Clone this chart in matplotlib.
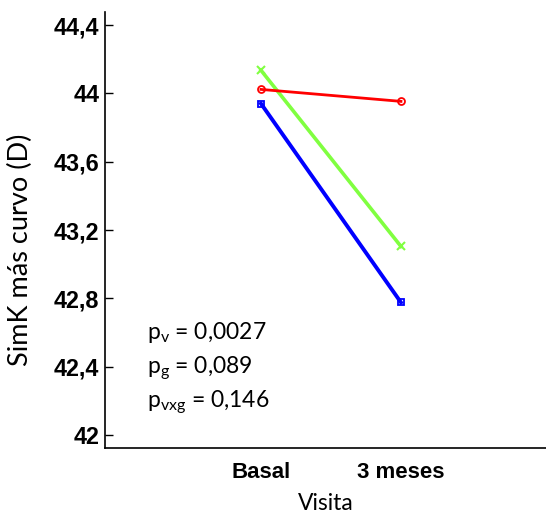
import matplotlib
matplotlib.use('Agg')
import matplotlib.pyplot as plt

visitas = ['Basal', '3 meses']
grupo_rojo = [44.023, 43.953]
grupo_verde = [44.135, 43.104]
grupo_azul = [43.940, 42.776]
y_ticks = [42.0, 42.4, 42.8, 43.2, 43.6, 44.0, 44.4]
y_tick_labels = ['42', '42,4', '42,8', '43,2', '43,6', '44', '44,4']
p_textos = [r'$\mathregular{p_v}$ = 0,0027',
            r'$\mathregular{p_g}$ = 0,089',
            r'$\mathregular{p_{vxg}}$ = 0,146']

plt.rcParams['mathtext.default'] = 'regular'
label_font = 'Lato'
tick_font = 'Liberation Sans'

fig = plt.figure(figsize=(5.46, 5.16), dpi=100)
ax = fig.add_axes([0.1923, 0.1318, 0.8077, 0.8449])

x = [1, 2]
ax.plot(x, grupo_verde, color='#80ff40', lw=2.6, marker='x', ms=6, mew=1.5, zorder=3)
ax.plot(x, grupo_rojo, color='#ff0000', lw=2.0, marker='o', ms=5, mfc='none', mew=1.3, zorder=4)
ax.plot(x, grupo_azul, color='#0000ff', lw=2.8, marker='s', ms=5, mfc='none', mew=1.3, zorder=3)

ax.set_xlim(-0.114, 3.036)
ax.set_ylim(41.924, 44.476)
ax.set_xticks(x)
ax.set_xticklabels(visitas, fontname=tick_font, fontweight='bold', fontsize=16)
ax.set_yticks(y_ticks)
ax.set_yticklabels(y_tick_labels, fontname=tick_font, fontweight='bold', fontsize=16.8)
ax.tick_params(axis='x', length=0, pad=10)
ax.tick_params(axis='y', direction='in', length=6, width=1, pad=4)

for s in ['top', 'right']:
    ax.spines[s].set_visible(False)
for s in ['left', 'bottom']:
    ax.spines[s].set_linewidth(1.2)

ax.set_xlabel('Visita', fontname=label_font, fontsize=16.5, labelpad=7)
ax.set_ylabel('SimK más curvo (D)', fontname=label_font, fontsize=19.5, labelpad=15)
ax.yaxis.label.set_y(0.454)

for i, t in enumerate(p_textos):
    ax.text(147 / 546, (516 - 339 - i * 34) / 516, t, transform=fig.transFigure,
            fontname=label_font, fontsize=16.5, ha='left', va='baseline')

fig.savefig('out.png', dpi=100)
